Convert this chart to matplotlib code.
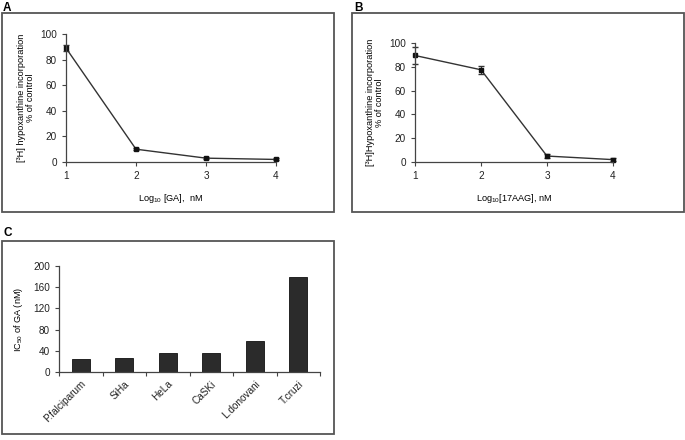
import matplotlib
matplotlib.use("Agg")
import matplotlib.pyplot as plt
from matplotlib.patches import Rectangle

plt.rcParams['font.family'] = ['Liberation Sans', 'DejaVu Sans']
plt.rcParams['mathtext.fontset'] = 'custom'
plt.rcParams['mathtext.rm'] = 'Liberation Sans'
plt.rcParams['mathtext.it'] = 'Liberation Sans:italic'

# data
log_conc = [1, 2, 3, 4]
ga_pct = [89, 10, 3, 2]
ga_err = [2.5, 0.8, 0.8, 0.8]
aag_pct = [89.5, 77.5, 5, 2]
aag_err = [7, 3.3, 2, 1]
organisms = ["P.falciparum", "SiHa", "HeLa", "CaSKi", "L.donovani", "T.cruzi"]
ic50 = [24.5, 26.5, 35.5, 36.5, 58, 178.5]

W, H = 685, 440
fig = plt.figure(figsize=(6.85, 4.4), dpi=100)

def px_axes(left, top, right, bottom):
    return fig.add_axes([left / W, 1 - bottom / H, (right - left) / W, (bottom - top) / H])

def box(left, top, right, bottom):
    fig.patches.append(Rectangle((left / W, 1 - bottom / H), (right - left) / W, (bottom - top) / H,
                                 transform=fig.transFigure, fill=False, ec="#555555", lw=1.3))

def style(ax):
    for s in ["top", "right"]:
        ax.spines[s].set_visible(False)
    for s in ["left", "bottom"]:
        ax.spines[s].set_color("#444444")
        ax.spines[s].set_linewidth(0.9)
    ax.tick_params(colors="#444444", labelcolor="#222222", labelsize=7.2, length=3, width=0.8)

line_col = "#333333"
tfs = 6.6

# panel boxes and letters
box(2, 13, 334, 212)
box(352, 13, 684, 212)
box(2, 241, 334, 434)
fig.text(3 / W, 1 - 8 / H, "A", fontsize=8.5, fontweight="bold", va="center")
fig.text(354 / W, 1 - 8 / H, "B", fontsize=8.5, fontweight="bold", va="center")
fig.text(3 / W, 1 - 233 / H, "C", fontsize=8.5, fontweight="bold", va="center")

# A
ax = px_axes(66, 34, 276, 162)
ax.errorbar(log_conc, ga_pct, yerr=ga_err, color=line_col, lw=1, marker="s", ms=3.3,
            mfc="#111111", mec="#111111", capsize=2, elinewidth=0.8, clip_on=False)
ax.set_xlim(1, 4)
ax.set_ylim(0, 100)
ax.set_xticks(log_conc)
ax.set_yticks(range(0, 101, 20))
style(ax)
ax.set_xlabel(r"Log$_{10}$ [GA],  nM", fontsize=tfs, labelpad=8)
ax.set_ylabel("[³H] hypoxanthine incorporation\n% of control", fontsize=tfs, labelpad=4, linespacing=1.0)

# B
ax = px_axes(415, 43, 613, 162)
ax.errorbar(log_conc, aag_pct, yerr=aag_err, color=line_col, lw=1, marker="s", ms=2.3,
            mfc="#111111", mec="#111111", capsize=2, elinewidth=0.8, clip_on=False)
ax.set_xlim(1, 4)
ax.set_ylim(0, 100)
ax.set_xticks(log_conc)
ax.set_yticks(range(0, 101, 20))
style(ax)
ax.set_xlabel(r"Log$_{10}$[17AAG], nM", fontsize=tfs, labelpad=8)
ax.set_ylabel("[³H]Hypoxanthine incorporation\n% of control", fontsize=tfs, labelpad=4, linespacing=1.0)

# C
ax = px_axes(59, 266, 320, 372)
pos = range(len(organisms))
ax.bar(pos, ic50, width=0.42, color="#2b2b2b", edgecolor="#111111", lw=0.6)
ax.set_xlim(-0.5, len(organisms) - 0.5)
ax.set_ylim(0, 200)
ax.set_yticks(range(0, 201, 40))
style(ax)
ax.set_xticks(pos)
ax.set_xticklabels(organisms, rotation=45, ha="right", rotation_mode="anchor")
ax.set_xticks([i - 0.5 for i in range(len(organisms) + 1)], minor=True)
ax.tick_params(axis="x", which="major", length=0, pad=5)
ax.tick_params(axis="x", which="minor", length=3, width=0.8, colors="#444444")
ax.set_ylabel(r"IC$_{50}$ of GA (nM)", fontsize=tfs, labelpad=6)

fig.savefig("out.png", dpi=100)
